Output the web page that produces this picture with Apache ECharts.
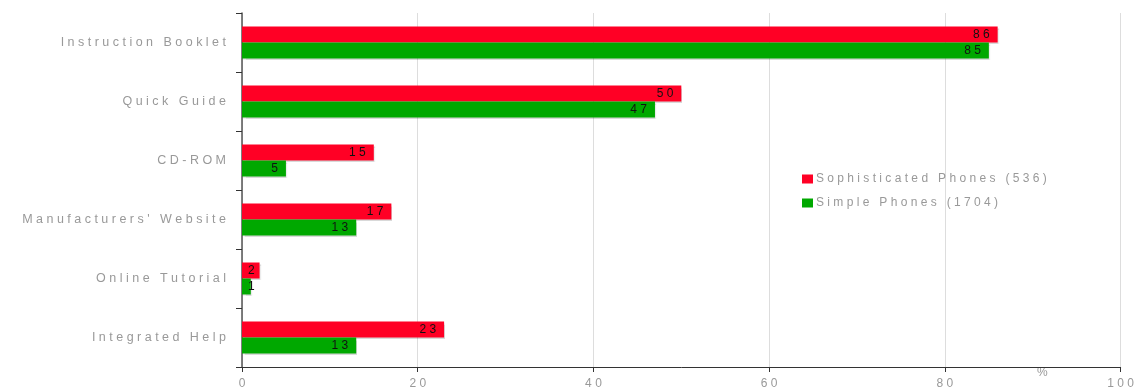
<!DOCTYPE html>
<html>
<head>
<meta charset="utf-8">
<script src="https://cdn.jsdelivr.net/npm/echarts@6/dist/echarts.min.js"></script>
<style>
  html, body { margin: 0; padding: 0; background: #fff; }
  #chart { width: 1137px; height: 390px; }
</style>
</head>
<body>
<div id="chart"></div>
<script>
// categories top to bottom
var categories = ['Instruction Booklet', 'Quick Guide', 'CD-ROM', "Manufacturers' Website", 'Online Tutorial', 'Integrated Help'];
var seriesNames = ['Sophisticated Phones (536)', 'Simple Phones (1704)'];
var sophisticated = [86, 50, 15, 17, 2, 23];
var simple = [85, 47, 5, 13, 1, 13];
var xTicks = [0, 20, 40, 60, 80, 100];

// spread letters out like the original
function spaced(s) {
    return String(s).split('').join(' ');
}

var font = '"Liberation Sans", Arial, sans-serif';

// short bars get their number from the left edge
function barData(arr) {
    return arr.map(function (v) {
        if (v < 4) {
            return { value: v, label: { position: 'insideLeft', distance: 6, color: '#111' } };
        }
        return v;
    });
}

var myChart = echarts.init(document.getElementById('chart'));

var option = {
    animation: false,
    textStyle: { fontFamily: font },
    grid: { left: 242, right: 12, top: 13, bottom: 23, containLabel: false },
    legend: {
        orient: 'vertical',
        left: 797,
        top: 168,
        itemWidth: 11,
        itemHeight: 9,
        itemGap: 12,
        icon: 'rect',
        formatter: function (n) { return spaced(n); },
        textStyle: { color: '#999', fontSize: 12, fontFamily: font, padding: [0, 0, 0, -2] },
        data: seriesNames
    },
    xAxis: {
        type: 'value',
        min: 0,
        max: 100,
        interval: 20,
        axisLine: { show: true, lineStyle: { color: '#333', width: 1 } },
        axisTick: { show: true, inside: false, length: 5, lineStyle: { color: '#333' } },
        splitLine: { show: true, lineStyle: { color: '#ddd', width: 1 } },
        axisLabel: {
            color: '#999', fontSize: 12, margin: 11, fontFamily: font,
            formatter: function (v) { return xTicks.indexOf(v) >= 0 ? spaced(v) : ''; }
        }
    },
    yAxis: {
        type: 'category',
        inverse: true,
        data: categories,
        axisLine: { show: true, lineStyle: { color: '#555', width: 1.5 } },
        axisTick: { show: true, length: 6, lineStyle: { color: '#333' } },
        axisLabel: {
            color: '#999', fontSize: 12.5, margin: 16, fontFamily: font,
            formatter: function (v) { return spaced(v); }
        }
    },
    graphic: [{
        type: 'text',
        left: 1037,
        top: 367,
        style: { text: '%', fill: '#999', font: '12px ' + font }
    }],
    series: [{
        name: seriesNames[0],
        type: 'bar',
        data: barData(sophisticated),
        barWidth: 16,
        barGap: '0%',
        itemStyle: { color: '#ff0025', shadowColor: 'rgba(0,0,0,0.15)', shadowOffsetX: 1, shadowOffsetY: 1, shadowBlur: 1 },
        label: {
            show: true, position: 'insideRight', distance: 8,
            color: '#111', fontSize: 12, fontFamily: font,
            formatter: function (p) { return spaced(p.value); }
        }
    }, {
        name: seriesNames[1],
        type: 'bar',
        data: barData(simple),
        barWidth: 16,
        itemStyle: { color: '#00a800', shadowColor: 'rgba(0,0,0,0.15)', shadowOffsetX: 1, shadowOffsetY: 1, shadowBlur: 1 },
        label: {
            show: true, position: 'insideRight', distance: 8,
            color: '#111', fontSize: 12, fontFamily: font,
            formatter: function (p) { return spaced(p.value); }
        }
    }]
};
myChart.setOption(option);
window.addEventListener('resize', function () {
    myChart.resize();
});
</script>
</body>
</html>
